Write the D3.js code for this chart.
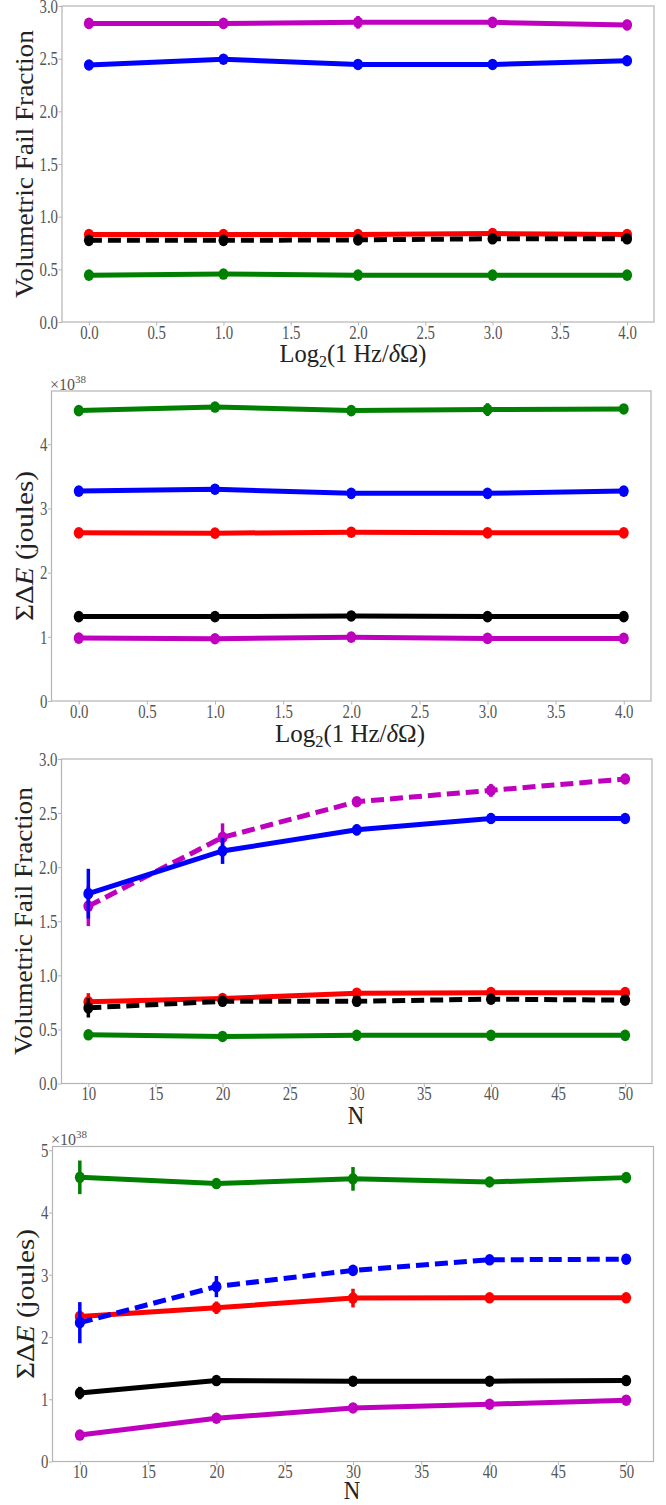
<!DOCTYPE html>
<html>
<head>
<meta charset="utf-8">
<script src="https://cdn.jsdelivr.net/npm/d3@7"></script>
<style>
  body { margin: 0; background: #fff; }
  svg { display: block; }
  svg text { font-family: "Liberation Serif", "DejaVu Serif", serif !important; }
</style>
</head>
<body>
<svg id="chart" width="666" height="1505"></svg>
<script>
// x values
const freqSteps = [0, 1, 2, 3, 4];
const nValues = [10, 20, 30, 40, 50];

// panel 1: volumetric fail fraction vs log2(1 Hz / dOmega)
const p1Magenta = [2.835, 2.835, 2.845, 2.845, 2.82];
const p1MagentaErr = [0.05, 0.04, 0.06, 0.03, 0.05];
const p1Blue = [2.44, 2.495, 2.445, 2.445, 2.48];
const p1BlueErr = [0.02, 0.02, 0.02, 0.02, 0.02];
const p1Red = [0.83, 0.83, 0.83, 0.84, 0.83];
const p1RedErr = [0.02, 0.02, 0.02, 0.02, 0.02];
const p1Black = [0.775, 0.775, 0.78, 0.79, 0.79];
const p1BlackErr = [0.03, 0.03, 0.03, 0.03, 0.03];
const p1Green = [0.445, 0.455, 0.445, 0.445, 0.445];
const p1GreenErr = [0.02, 0.02, 0.02, 0.02, 0.02];

// panel 2: sum delta E (x1e38 J) vs log2(1 Hz / dOmega)
const p2Green = [4.525, 4.58, 4.525, 4.54, 4.55];
const p2GreenErr = [0.03, 0.04, 0.03, 0.1, 0.04];
const p2Blue = [3.27, 3.30, 3.235, 3.235, 3.27];
const p2BlueErr = [0.03, 0.03, 0.03, 0.03, 0.05];
const p2Red = [2.62, 2.615, 2.63, 2.62, 2.62];
const p2RedErr = [0.03, 0.03, 0.03, 0.03, 0.03];
const p2Black = [1.315, 1.315, 1.325, 1.315, 1.315];
const p2BlackErr = [0.03, 0.03, 0.03, 0.03, 0.03];
const p2Magenta = [0.98, 0.97, 0.995, 0.975, 0.975];
const p2MagentaErr = [0.03, 0.03, 0.03, 0.03, 0.03];

// panel 3: volumetric fail fraction vs N
const p3Magenta = [1.64, 2.275, 2.605, 2.71, 2.815];
const p3MagentaErr = [0.185, 0.13, 0.03, 0.06, 0.03];
const p3Blue = [1.755, 2.15, 2.345, 2.45, 2.45];
const p3BlueErr = [0.23, 0.12, 0.05, 0.05, 0.02];
const p3Red = [0.755, 0.785, 0.835, 0.84, 0.84];
const p3RedErr = [0.08, 0.02, 0.02, 0.02, 0.02];
const p3Black = [0.70, 0.76, 0.76, 0.78, 0.77];
const p3BlackErr = [0.09, 0.03, 0.03, 0.03, 0.02];
const p3Green = [0.45, 0.435, 0.445, 0.445, 0.445];
const p3GreenErr = [0.02, 0.02, 0.02, 0.02, 0.02];

// panel 4: sum delta E (x1e38 J) vs N
const p4Green = [4.565, 4.465, 4.54, 4.49, 4.56];
const p4GreenErr = [0.27, 0.06, 0.19, 0.07, 0.04];
const p4Blue = [2.23, 2.81, 3.07, 3.24, 3.25];
const p4BlueErr = [0.33, 0.17, 0.03, 0.04, 0.04];
const p4Red = [2.33, 2.47, 2.625, 2.63, 2.63];
const p4RedErr = [0.06, 0.1, 0.15, 0.03, 0.03];
const p4Black = [1.10, 1.30, 1.29, 1.29, 1.30];
const p4BlackErr = [0.1, 0.04, 0.03, 0.03, 0.03];
const p4Magenta = [0.425, 0.695, 0.86, 0.92, 0.985];
const p4MagentaErr = [0.03, 0.03, 0.03, 0.03, 0.03];

// tick labels
const freqTicks = [0, 0.5, 1, 1.5, 2, 2.5, 3, 3.5, 4];
const nTicks = [10, 15, 20, 25, 30, 35, 40, 45, 50];
const fracTicks = [0, 0.5, 1, 1.5, 2, 2.5, 3];
const energyTicks2 = [0, 1, 2, 3, 4];
const energyTicks4 = [0, 1, 2, 3, 4, 5];

const COLORS = { m: "#bf00bf", b: "#0000ff", r: "#ff0000", k: "#000000", g: "#008000" };
const SPINE = "#b4b4b4";
const TICK_TEXT = "#555";
const LABEL_TEXT = "#222";
const SERIF = '"Liberation Serif", "DejaVu Serif", serif';

const svg = d3.select("#chart");
svg.append("rect").attr("width", 666).attr("height", 1505).attr("fill", "#fff");

// scale a text along its run so that its length matches the reference
const fitText = (sel, target, x, y, rotate) => {
    const len = sel.node().getComputedTextLength();
    const s = target / len;
    sel.attr("transform", `translate(${x},${y})` + (rotate ? " rotate(-90)" : "") + ` scale(${s},1)`);
};

const xLabelFreq = (g, cx, baseline, width) => {
    const t = g.append("text").attr("text-anchor", "middle")
        .style("font-family", SERIF)
        .attr("font-size", 26).attr("fill", LABEL_TEXT);
    t.append("tspan").text("Log");
    t.append("tspan").attr("font-size", 17).attr("dy", 5).text("2");
    t.append("tspan").attr("dy", -5).text("(1 Hz/");
    t.append("tspan").attr("font-style", "italic").text("δ");
    t.append("tspan").text("Ω)");
    fitText(t, width, cx, baseline, false);
};

const xLabelN = (g, cx, baseline) => {
    const t = g.append("text").attr("text-anchor", "middle")
        .style("font-family", SERIF)
        .attr("font-size", 25).attr("fill", LABEL_TEXT).text("N");
    fitText(t, 16.5, cx, baseline, false);
};

const yLabelFrac = (g, x, cy) => {
    const t = g.append("text").attr("text-anchor", "middle")
        .style("font-family", SERIF)
        .attr("font-size", 25).attr("fill", LABEL_TEXT).text("Volumetric Fail Fraction");
    fitText(t, 268, x, cy, true);
};

const yLabelEnergy = (g, x, cy) => {
    const t = g.append("text").attr("text-anchor", "middle")
        .style("font-family", SERIF)
        .attr("font-size", 26).attr("fill", LABEL_TEXT);
    t.append("tspan").text("ΣΔ");
    t.append("tspan").attr("font-style", "italic").text("E");
    t.append("tspan").text(" (joules)");
    fitText(t, 150, x, cy, true);
};

const offsetText = (g, x, baseline) => {
    const t = g.append("text").attr("font-size", 16).attr("fill", TICK_TEXT)
        .style("font-family", SERIF)
        .attr("x", x).attr("y", baseline);
    t.append("tspan").text("×10");
    t.append("tspan").attr("font-size", 11).attr("dy", -7).text("38");
};

const drawPanel = (cfg) => {
    const g = svg.append("g").attr("class", "panel");
    const box = cfg.box;

    const x = d3.scaleLinear().domain(cfg.xDomain).range([box.left, box.right]);
    const y = d3.scaleLinear().domain(cfg.yDomain).range([box.bottom, box.top]);

    // axes
    const xAxis = g.append("g").attr("transform", `translate(0,${box.bottom})`)
        .call(d3.axisBottom(x).tickValues(cfg.xTicks).tickFormat(cfg.xFormat)
            .tickSize(3.5).tickSizeOuter(0).tickPadding(1));
    const yAxis = g.append("g").attr("transform", `translate(${box.left},0)`)
        .call(d3.axisLeft(y).tickValues(cfg.yTicks).tickFormat(cfg.yFormat)
            .tickSize(3.5).tickSizeOuter(0).tickPadding(1.5));

    [xAxis, yAxis].forEach(a => {
        a.attr("font-family", null);
        a.select(".domain").remove();
        a.selectAll(".tick line").attr("stroke", SPINE);
        a.selectAll(".tick text")
            .attr("fill", TICK_TEXT)
            .attr("font-size", 18.5)
            .style("font-family", SERIF);
    });
    xAxis.selectAll(".tick text").attr("transform", "scale(0.8,1)").attr("dy", "0.66em");
    yAxis.selectAll(".tick text").attr("transform", "scale(0.8,1)").attr("dy", "0.34em");

    // frame
    g.append("rect")
        .attr("x", box.left).attr("y", box.top)
        .attr("width", box.right - box.left).attr("height", box.bottom - box.top)
        .attr("fill", "none").attr("stroke", SPINE).attr("stroke-width", 1.2);

    const line = d3.line().x(d => x(d.x)).y(d => y(d.y));

    cfg.series.forEach(s => {
        const pts = cfg.xs.map((xv, i) => ({ x: xv, y: s.values[i], e: s.errors[i] }));
        const sg = g.append("g").attr("class", "series");

        sg.selectAll("line.err")
            .data(pts)
            .enter().append("line")
            .attr("class", "err")
            .attr("x1", d => x(d.x)).attr("x2", d => x(d.x))
            .attr("y1", d => y(d.y - d.e)).attr("y2", d => y(d.y + d.e))
            .attr("stroke", COLORS[s.color])
            .attr("stroke-width", 3.5);

        sg.append("path")
            .datum(pts)
            .attr("d", line)
            .attr("fill", "none")
            .attr("stroke", COLORS[s.color])
            .attr("stroke-width", 5)
            .attr("stroke-dasharray", s.dashed ? "13,6" : null);

        sg.selectAll("ellipse")
            .data(pts)
            .enter().append("ellipse")
            .attr("cx", d => x(d.x)).attr("cy", d => y(d.y))
            .attr("rx", 5).attr("ry", 5.8)
            .attr("fill", COLORS[s.color]);
    });

    cfg.decorate(g);
};

const fmt1 = d3.format(".1f");
const fmt0 = d3.format("d");

drawPanel({
    box: { left: 62, right: 654, top: 6, bottom: 322 },
    xs: freqSteps, xDomain: [-0.2, 4.2], yDomain: [0, 3],
    xTicks: freqTicks, yTicks: fracTicks, xFormat: fmt1, yFormat: fmt1,
    series: [
        { color: "g", values: p1Green, errors: p1GreenErr },
        { color: "r", values: p1Red, errors: p1RedErr },
        { color: "k", values: p1Black, errors: p1BlackErr, dashed: true },
        { color: "b", values: p1Blue, errors: p1BlueErr },
        { color: "m", values: p1Magenta, errors: p1MagentaErr }
    ],
    decorate: g => {
        xLabelFreq(g, 353, 362, 147);
        yLabelFrac(g, 33, 164);
    }
});

drawPanel({
    box: { left: 51.5, right: 651, top: 391, bottom: 701 },
    xs: freqSteps, xDomain: [-0.2, 4.2], yDomain: [0, 4.83],
    xTicks: freqTicks, yTicks: energyTicks2, xFormat: fmt1, yFormat: fmt0,
    series: [
        { color: "g", values: p2Green, errors: p2GreenErr },
        { color: "r", values: p2Red, errors: p2RedErr },
        { color: "k", values: p2Black, errors: p2BlackErr },
        { color: "b", values: p2Blue, errors: p2BlueErr },
        { color: "m", values: p2Magenta, errors: p2MagentaErr }
    ],
    decorate: g => {
        xLabelFreq(g, 350, 742, 150);
        yLabelEnergy(g, 33, 546);
        offsetText(g, 50, 390);
    }
});

drawPanel({
    box: { left: 61.5, right: 652, top: 759, bottom: 1083.5 },
    xs: nValues, xDomain: [8, 52], yDomain: [0, 3],
    xTicks: nTicks, yTicks: fracTicks, xFormat: fmt0, yFormat: fmt1,
    series: [
        { color: "g", values: p3Green, errors: p3GreenErr },
        { color: "r", values: p3Red, errors: p3RedErr },
        { color: "k", values: p3Black, errors: p3BlackErr, dashed: true },
        { color: "m", values: p3Magenta, errors: p3MagentaErr, dashed: true },
        { color: "b", values: p3Blue, errors: p3BlueErr }
    ],
    decorate: g => {
        xLabelN(g, 356, 1124);
        yLabelFrac(g, 32, 921);
    }
});

drawPanel({
    box: { left: 52.5, right: 653.5, top: 1146.5, bottom: 1461.5 },
    xs: nValues, xDomain: [8, 52], yDomain: [0, 5.06],
    xTicks: nTicks, yTicks: energyTicks4, xFormat: fmt0, yFormat: fmt0,
    series: [
        { color: "g", values: p4Green, errors: p4GreenErr },
        { color: "r", values: p4Red, errors: p4RedErr },
        { color: "b", values: p4Blue, errors: p4BlueErr, dashed: true },
        { color: "k", values: p4Black, errors: p4BlackErr },
        { color: "m", values: p4Magenta, errors: p4MagentaErr }
    ],
    decorate: g => {
        xLabelN(g, 352, 1499);
        yLabelEnergy(g, 34, 1304);
        offsetText(g, 51, 1145);
    }
});
</script>
</body>
</html>
